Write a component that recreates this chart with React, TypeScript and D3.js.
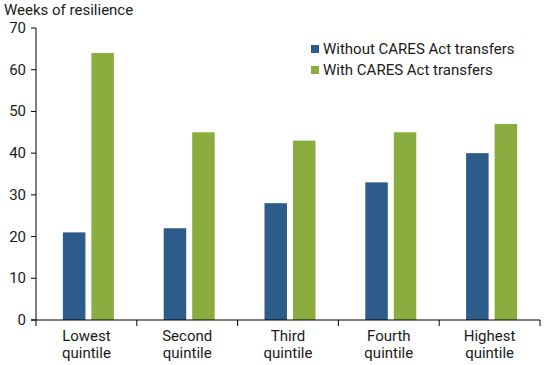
import React from 'react';
import * as d3 from 'd3';

const categories = [['Lowest', 'quintile'], ['Second', 'quintile'], ['Third', 'quintile'], ['Fourth', 'quintile'], ['Highest', 'quintile']];
const withoutCares = [21, 22, 28, 33, 40];
const withCares = [64, 45, 43, 45, 47];
const yTicks = [0, 10, 20, 30, 40, 50, 60, 70];
const seriesNames = ['Without CARES Act transfers', 'With CARES Act transfers'];
const colors = ['#2e5c8a', '#8aad3f'];

const App = () => {
  const width = 550;
  const height = 365;
  const margin = { top: 28, right: 10, bottom: 45, left: 36 };
  const x0 = margin.left;
  const x1 = 540;
  const y0 = 320;

  const x = d3.scaleBand<number>()
    .domain(categories.map((_, i) => i))
    .range([x0, x1]);

  const y = d3.scaleLinear()
    .domain([0, 70])
    .range([y0, margin.top]);

  const barW = 22.5;
  const gap = 6;
  const font = 'Roboto, sans-serif';
  const fs = 15;

  return (
    <svg width={width} height={height} style={{ display: 'block', position: 'absolute', left: 0, top: 0 }}>
      <text x={4} y={15} fontFamily={font} fontSize={fs} fill="#1a1a1a">Weeks of resilience</text>

      {categories.map((_, i) => {
        const c = (x(i) as number) + x.bandwidth() / 2 + 2;
        return (
          <g key={i}>
            <rect x={c - gap / 2 - barW} y={y(withoutCares[i])} width={barW} height={y0 - y(withoutCares[i])} fill={colors[0]} />
            <rect x={c + gap / 2} y={y(withCares[i])} width={barW} height={y0 - y(withCares[i])} fill={colors[1]} />
          </g>
        );
      })}

      {/* y axis */}
      <line x1={x0} x2={x0} y1={y(70)} y2={y0} stroke="#000" strokeWidth={1} />
      {yTicks.map(t => (
        <g key={t}>
          <line x1={x0 - 5} x2={x0} y1={y(t)} y2={y(t)} stroke="#000" />
          <text x={26} y={y(t) + 5} textAnchor="end" fontFamily={font} fontSize={fs} fill="#1a1a1a">{t}</text>
        </g>
      ))}

      {/* x axis */}
      <line x1={x0 - 5} x2={x1} y1={y0} y2={y0} stroke="#000" />
      {[...categories.map((_, i) => x(i) as number), x1].map((px, i) => (
        <line key={i} x1={px} x2={px} y1={y0} y2={y0 + 6} stroke="#000" />
      ))}
      {categories.map((lines, i) => {
        const c = (x(i) as number) + x.bandwidth() / 2;
        return (
          <text key={i} x={c} textAnchor="middle" fontFamily={font} fontSize={fs} fill="#1a1a1a">
            <tspan x={c} y={341}>{lines[0]}</tspan>
            <tspan x={c} y={358}>{lines[1]}</tspan>
          </text>
        );
      })}

      {/* legend */}
      {seriesNames.map((name, i) => (
        <g key={name} transform={`translate(311, ${45 + i * 21})`}>
          <rect x={0} y={0} width={8} height={8} fill={colors[i]} />
          <text x={12} y={9} fontFamily={font} fontSize={fs} fill="#1a1a1a">{name}</text>
        </g>
      ))}
    </svg>
  );
};

export default App;
